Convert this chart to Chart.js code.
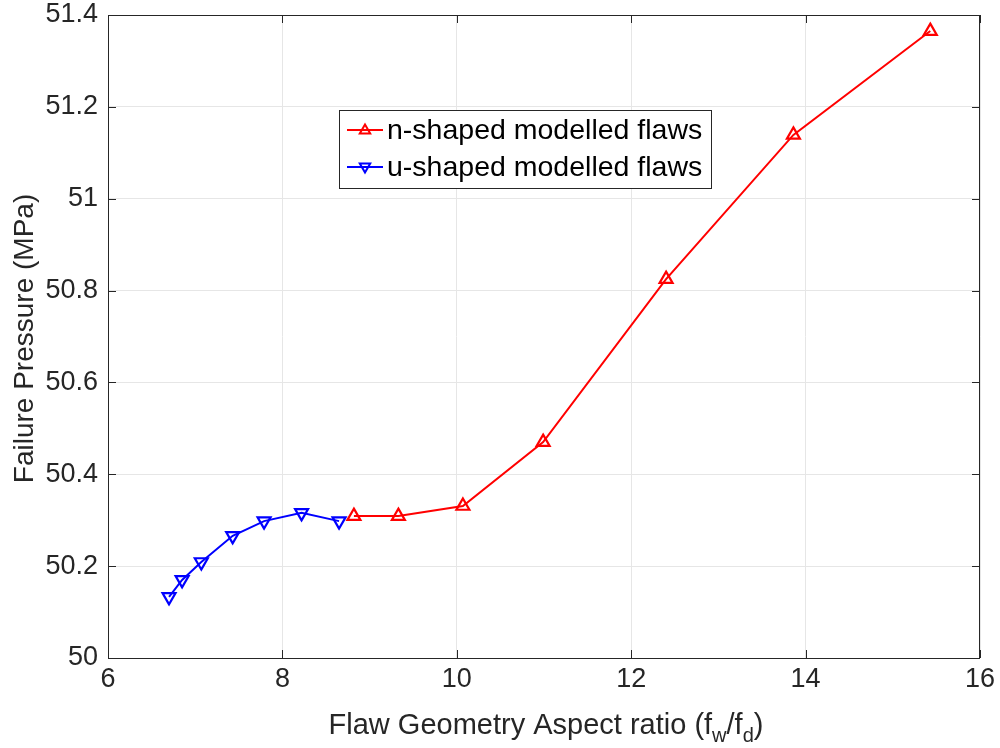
<!DOCTYPE html>
<html>
<head>
<meta charset="utf-8">
<script src="https://cdn.jsdelivr.net/npm/chart.js@4.4.1/dist/chart.umd.min.js"></script>
<style>
  html, body { margin: 0; padding: 0; background: white; }
  #wrap { width: 1000px; height: 748px; }
</style>
</head>
<body>
<div id="wrap"><canvas id="chart" width="1000" height="748"></canvas></div>
<script>
// aspect ratio fw/fd and failure pressure in MPa
const uShapedRatio = [6.70, 6.85, 7.07, 7.43, 7.79, 8.22, 8.65];
const uShapedPressure = [50.133, 50.170, 50.209, 50.266, 50.298, 50.316, 50.298];
const nShapedRatio = [8.82, 9.33, 10.07, 10.99, 12.40, 13.86, 15.43];
const nShapedPressure = [50.309, 50.309, 50.331, 50.470, 50.825, 51.139, 51.365];

const xTicks = [6, 8, 10, 12, 14, 16];
const yTicks = [50, 50.2, 50.4, 50.6, 50.8, 51, 51.2, 51.4];

const seriesLabels = ["n-shaped modelled flaws", "u-shaped modelled flaws"];
const yTitle = "Failure Pressure (MPa)";
const fontFamily = "'Liberation Sans', Arial, sans-serif";
const axisColor = "#262626";

function toPoints(xs, ys) {
  return xs.map((x, i) => ({ x: x, y: ys[i] }));
}

function drawTriangle(ctx, cx, cy, r, down) {
  const s = down ? -1 : 1;
  ctx.beginPath();
  ctx.moveTo(cx, cy - s * r);
  ctx.lineTo(cx + r * 0.95, cy + s * r * 0.65);
  ctx.lineTo(cx - r * 0.95, cy + s * r * 0.65);
  ctx.closePath();
  ctx.stroke();
}

// MATLAB-like box, inward ticks, axis titles and legend
const boxPlugin = {
  id: "box",
  afterDraw(chart) {
    const ctx = chart.ctx;
    const a = chart.chartArea;
    const xs = chart.scales.x, ys = chart.scales.y;
    ctx.save();
    ctx.strokeStyle = axisColor;
    ctx.lineWidth = 1;
    ctx.strokeRect(a.left + 0.5, a.top + 0.5, a.right - a.left - 1, a.bottom - a.top);
    ctx.beginPath();
    for (const t of xTicks) {
      const px = Math.round(xs.getPixelForValue(t)) + 0.5;
      ctx.moveTo(px, a.bottom); ctx.lineTo(px, a.bottom - 8);
      ctx.moveTo(px, a.top); ctx.lineTo(px, a.top + 8);
    }
    for (const t of yTicks) {
      const py = Math.round(ys.getPixelForValue(t)) + 0.5;
      ctx.moveTo(a.left, py); ctx.lineTo(a.left + 8, py);
      ctx.moveTo(a.right, py); ctx.lineTo(a.right - 8, py);
    }
    ctx.stroke();

    // x title with subscripts
    ctx.fillStyle = axisColor;
    ctx.textBaseline = "alphabetic";
    ctx.textAlign = "left";
    const big = "29px " + fontFamily, small = "20px " + fontFamily;
    const parts = [
      ["Flaw Geometry Aspect ratio (f", big, 0],
      ["w", small, 8],
      ["/f", big, 0],
      ["d", small, 8],
      [")", big, 0]
    ];
    let total = 0;
    for (const p of parts) { ctx.font = p[1]; total += ctx.measureText(p[0]).width; }
    let x = (a.left + a.right) / 2 + 2 - total / 2;
    const baseY = 734;
    for (const p of parts) {
      ctx.font = p[1];
      ctx.fillText(p[0], x, baseY + p[2]);
      x += ctx.measureText(p[0]).width;
    }

    // y title
    ctx.save();
    ctx.translate(25, (a.top + a.bottom) / 2 + 2);
    ctx.rotate(-Math.PI / 2);
    ctx.font = "28px " + fontFamily;
    ctx.textAlign = "center";
    ctx.textBaseline = "middle";
    ctx.fillText(yTitle, 0, 0);
    ctx.restore();

    // legend box inside the axes
    const lx = 339, ly = 110, lw = 372, lh = 78;
    ctx.fillStyle = "white";
    ctx.fillRect(lx, ly, lw, lh);
    ctx.strokeStyle = axisColor;
    ctx.strokeRect(lx + 0.5, ly + 0.5, lw, lh);
    ctx.font = "28.5px " + fontFamily;
    ctx.textBaseline = "middle";
    ctx.textAlign = "left";
    chart.data.datasets.forEach((ds, i) => {
      const cy = ly + 20 + i * 37;
      ctx.strokeStyle = ds.borderColor;
      ctx.lineWidth = 2;
      ctx.beginPath();
      ctx.moveTo(lx + 8, cy); ctx.lineTo(lx + 44, cy);
      ctx.stroke();
      drawTriangle(ctx, lx + 26, cy, 5.5, i === 1);
      ctx.fillStyle = "#000";
      ctx.fillText(ds.label, lx + 48, cy + 1);
    });
    ctx.restore();
  }
};

new Chart("chart", {
  type: "scatter",
  data: {
    datasets: [
      {
        label: seriesLabels[0],
        data: toPoints(nShapedRatio, nShapedPressure),
        showLine: true,
        borderColor: "rgb(255, 0, 0)",
        backgroundColor: "rgba(0,0,0,0)",
        borderWidth: 2,
        pointStyle: "triangle",
        pointRadius: 7.5,
        pointBorderWidth: 2.2,
      },
      {
        label: seriesLabels[1],
        data: toPoints(uShapedRatio, uShapedPressure),
        showLine: true,
        borderColor: "rgb(0, 0, 255)",
        backgroundColor: "rgba(0,0,0,0)",
        borderWidth: 2,
        pointStyle: "triangle",
        pointRotation: 180,
        pointRadius: 7.5,
        pointBorderWidth: 2.2,
      },
    ],
  },
  options: {
    responsive: false,
    animation: false,
    layout: { padding: { left: 0, top: 15, right: 20, bottom: 0 } },
    scales: {
      x: {
        type: "linear",
        min: 6,
        max: 16,
        afterBuildTicks: (s) => { s.ticks = xTicks.map(v => ({ value: v })); },
        afterFit: (s) => { s.height = 90; s.paddingLeft = 0; s.paddingRight = 0; },
        ticks: {
          color: axisColor,
          padding: 5,
          maxRotation: 0,
          font: { size: 27, family: fontFamily },
        },
        grid: { color: "#e6e6e6", drawTicks: false },
        border: { display: false },
        title: { display: false },
      },
      y: {
        type: "linear",
        min: 50,
        max: 51.4,
        afterBuildTicks: (s) => { s.ticks = yTicks.map(v => ({ value: v })); },
        afterFit: (s) => { s.width = 108; s.paddingTop = 0; s.paddingBottom = 0; },
        ticks: {
          color: axisColor,
          padding: 10,
          font: { size: 27, family: fontFamily },
          callback: (v) => String(+Number(v).toFixed(1)),
        },
        grid: { color: "#e6e6e6", drawTicks: false },
        border: { display: false },
        title: { display: false },
      },
    },
    plugins: {
      legend: { display: false },
      tooltip: { enabled: false },
    },
  },
  plugins: [boxPlugin],
});
</script>
</body>
</html>
